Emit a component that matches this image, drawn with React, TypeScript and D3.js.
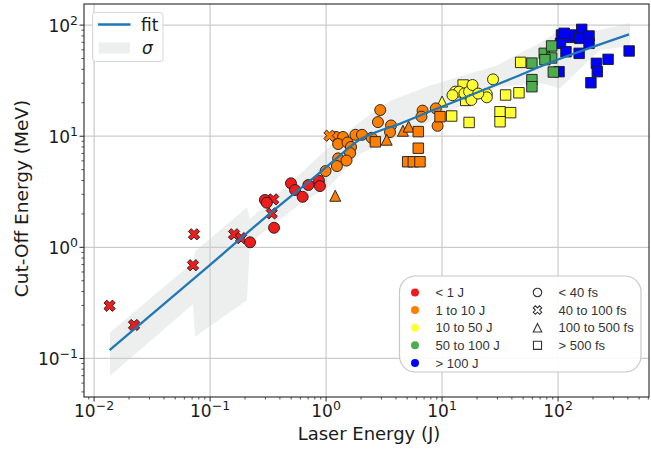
import React from 'react';
import * as d3 from 'd3';

// ---------------- data ----------------
// pulse codes: c = < 40 fs, x = 40 to 100 fs, t = 100 to 500 fs, s = > 500 fs
const redEnergy = [0.0136, 0.0221, 0.0712, 0.0727, 0.161, 0.185, 0.34, 0.35, 0.221, 0.356, 0.297, 0.308, 0.498, 0.54, 0.628, 0.703, 0.869, 0.885];
const redCutoff = [0.298, 0.2, 0.69, 1.31, 1.31, 1.21, 2.02, 2.7, 1.11, 1.5, 2.67, 2.52, 3.77, 3.28, 2.85, 3.64, 3.98, 3.56];
const redPulse = ['x', 'x', 'x', 'x', 'x', 'x', 'x', 'x', 'c', 'c', 'c', 'c', 'c', 'c', 'c', 'c', 'c', 'c'];

const orangeEnergy = [0.99, 1.22, 1.4, 1.27, 1.53, 1.64, 1.61, 1.27, 1.5, 1.24, 1.79, 2.04, 2.47, 2.93, 2.8, 3.63, 3.56, 6.79, 6.64, 8.83, 9.15, 1.07, 1.2, 3.33, 4.6, 5.15, 2.66, 6.23, 6.23, 5.05, 5.65, 6.45, 9.6];
const orangeCutoff = [4.86, 9.84, 9.84, 8.51, 8.78, 8.0, 7.06, 6.32, 6.04, 5.39, 10.3, 10.3, 9.68, 17.2, 13.4, 12.5, 10.9, 17.0, 15.0, 17.8, 12.4, 10.1, 2.91, 9.3, 11.2, 12.2, 8.9, 11.0, 7.8, 5.89, 5.89, 5.89, 15.0];
const orangePulse = ['c', 'c', 'c', 'c', 'c', 'c', 'c', 'c', 'c', 'c', 'c', 'c', 'c', 'c', 'c', 'c', 'c', 'c', 'c', 'c', 'c', 'x', 't', 't', 't', 't', 's', 's', 's', 's', 's', 's', 's'];

const yellowEnergy = [47.6, 35.3, 46.0, 31.6, 39.0, 31.6, 17.1, 12.1, 15.2, 16.0, 13.0, 14.0, 15.6, 17.1, 17.9, 18.3, 24.3, 24.3, 27.5, 12.3, 20.5, 10.0];
const yellowCutoff = [46.2, 23.5, 24.6, 16.6, 16.3, 13.5, 13.3, 15.2, 28.9, 21.0, 25.2, 25.2, 24.3, 25.2, 21.2, 28.9, 24.0, 22.4, 32.5, 23.4, 24.2, 20.5];
const yellowPulse = ['s', 's', 's', 's', 's', 's', 's', 's', 's', 's', 'c', 'c', 'c', 'c', 'c', 'c', 'c', 'c', 'c', 'c', 'c', 't'];

const greenEnergy = [59.5, 59.5, 59.5, 76, 88, 88, 77, 91];
const greenCutoff = [45.5, 32.3, 27.9, 55.7, 64.9, 50.6, 48.9, 37.8];
const greenPulse = ['s', 's', 's', 's', 's', 's', 's', 's'];

const blueEnergy = [107, 105, 117, 128, 140, 160, 154, 185, 185, 152, 102, 214, 218, 192, 270, 410, 113];
const blueCutoff = [81.5, 68.5, 57.6, 77.6, 81.5, 91.6, 76, 79.8, 68.5, 55.7, 38.1, 45.3, 38.1, 30.3, 49.2, 58.5, 84.4];
const bluePulse = ['s', 's', 's', 's', 's', 's', 's', 's', 's', 's', 's', 's', 's', 's', 's', 's', 's'];

const fitEnergy = [0.0136, 0.1, 0.316, 0.832, 1.23, 1.585, 2.0, 2.75, 4.37, 6.92, 11.7, 39.8, 100, 409];
const fitCutoff = [0.119, 0.695, 1.95, 4.47, 6.31, 7.94, 9.44, 10.96, 13.0, 15.85, 19.7, 33.1, 49.0, 82.4];

const bandEnergy = [0.0137, 0.0713, 0.0741, 0.208, 0.221, 0.596, 1.08, 1.96, 3.56, 7.86, 17.4, 29.7, 69.8, 104, 230, 417];
const bandUpper = [0.171, 0.733, 0.915, 2.3, 1.81, 4.58, 8.16, 13.5, 20.7, 28.6, 36.7, 43.4, 69.2, 90.3, 90.3, 104.5];
const bandLower = [0.07, 0.307, 0.157, 0.334, 1.1, 2.46, 3.56, 6.97, 9.06, 13.6, 20.6, 27.5, 30.2, 27.2, 59.7, 64.9];

const xTickExps = [-2, -1, 0, 1, 2];
const yTickExps = [-1, 0, 1, 2];

const energyLegend = ['< 1 J', '1 to 10 J', '10 to 50 J', '50 to 100 J', '> 100 J'];
const pulseLegend = ['< 40 fs', '40 to 100 fs', '100 to 500 fs', '> 500 fs'];
const pulseCodes = ['c', 'x', 't', 's'];

const COLORS = ['#ee1c1c', '#ff7f00', '#ffff33', '#4dac4d', '#0000ff'];

// ---------------- layout ----------------
const W = 651, H = 449;
const L = 84, R = 649, T = 4, B = 397;

const x = d3.scaleLog().domain([Math.pow(10, -2.087), Math.pow(10, 2.784)]).range([L, R]);
const y = d3.scaleLog().domain([Math.pow(10, -1.347), Math.pow(10, 2.19)]).range([B, T]);

function markerPath(code: string, ms: number): string {
  const h = ms / 2;
  if (code === 'c') {
    const r = h;
    return `M${r},0A${r},${r} 0 1,1 ${-r},0A${r},${r} 0 1,1 ${r},0Z`;
  }
  if (code === 's') {
    const s = h * 0.95;
    return `M${-s},${-s}H${s}V${s}H${-s}Z`;
  }
  if (code === 't') {
    return `M0,${-h}L${h},${h}L${-h},${h}Z`;
  }
  const pts = [[-1, -3], [1, -3], [1, -1], [3, -1], [3, 1], [1, 1], [1, 3], [-1, 3], [-1, 1], [-3, 1], [-3, -1], [-1, -1]];
  const k = ms / 6;
  const c = Math.SQRT1_2;
  return 'M' + pts.map(([a, b]) => `${((a - b) * c * k).toFixed(2)},${((a + b) * c * k).toFixed(2)}`).join('L') + 'Z';
}

const groups = [
  { e: blueEnergy, c: blueCutoff, p: bluePulse, color: COLORS[4] },
  { e: greenEnergy, c: greenCutoff, p: greenPulse, color: COLORS[3] },
  { e: yellowEnergy, c: yellowCutoff, p: yellowPulse, color: COLORS[2] },
  { e: orangeEnergy, c: orangeCutoff, p: orangePulse, color: COLORS[1] },
  { e: redEnergy, c: redCutoff, p: redPulse, color: COLORS[0] },
];

const FONT = 'DejaVu Sans, sans-serif';
const LFONT = 'Liberation Sans, Arial, sans-serif';

export default function App() {
  const minorX: number[] = [];
  for (let d = -3; d <= 2; d++) for (let k = 2; k <= 9; k++) {
    const v = k * Math.pow(10, d);
    if (x(v) >= L && x(v) <= R) minorX.push(v);
  }
  const minorY: number[] = [];
  for (let d = -2; d <= 2; d++) for (let k = 2; k <= 9; k++) {
    const v = k * Math.pow(10, d);
    if (y(v) >= T && y(v) <= B) minorY.push(v);
  }

  const area = d3.area<number>()
    .x((_, i) => x(bandEnergy[i]))
    .y0((_, i) => y(bandLower[i]))
    .y1((_, i) => y(bandUpper[i]))(bandEnergy.map((_, i) => i)) || '';

  const fitPath = d3.line<number>()
    .x((i) => x(fitEnergy[i]))
    .y((i) => y(fitCutoff[i]))
    .curve(d3.curveCatmullRom.alpha(0.5))(fitEnergy.map((_, i) => i)) || '';

  const sup = (e: number) => (e < 0 ? '\u2212' + Math.abs(e) : String(e));

  return (
    <svg width={W} height={H} style={{ position: 'absolute', left: 0, top: 0, background: '#fff' }}>
      <rect x={0} y={0} width={W} height={H} fill="#fff" />
      <defs>
        <clipPath id="plotclip"><rect x={L} y={T} width={R - L} height={B - T} /></clipPath>
      </defs>
      <g clipPath="url(#plotclip)">
        <path d={area} fill="#edefef" stroke="none" />
        {xTickExps.map((e) => (
          <line key={'gx' + e} x1={x(Math.pow(10, e))} x2={x(Math.pow(10, e))} y1={T} y2={B} stroke="#cbcbcb" strokeWidth={1.2} />
        ))}
        {yTickExps.map((e) => (
          <line key={'gy' + e} x1={L} x2={R} y1={y(Math.pow(10, e))} y2={y(Math.pow(10, e))} stroke="#cbcbcb" strokeWidth={1.2} />
        ))}
        {groups.map((g, gi) => (
          <g key={'g' + gi}>
            {g.e.map((ev, i) => (
              <path key={i} d={markerPath(g.p[i], g.p[i] === 'x' ? 12 : 11)}
                transform={`translate(${x(ev)},${y(g.c[i])})`}
                fill={g.color} stroke="#1a1a1a" strokeWidth={0.9} />
            ))}
          </g>
        ))}
        <path d={fitPath} fill="none" stroke="#1f77b4" strokeWidth={2.3} />
      </g>
      {/* spines */}
      <rect x={L} y={T} width={R - L} height={B - T} fill="none" stroke="#262626" strokeWidth={1.1} />
      {/* x ticks */}
      {xTickExps.map((e) => {
        const px = x(Math.pow(10, e));
        return (
          <g key={'xt' + e}>
            <line x1={px} x2={px} y1={B} y2={B + 4.5} stroke="#262626" strokeWidth={1} />
            <text x={px} y={417} fontFamily={FONT} fontSize={17} fill="#1a1a1a" textAnchor="middle">
              10<tspan dy={-7} fontSize={12.5}>{sup(e)}</tspan>
            </text>
          </g>
        );
      })}
      {minorX.map((v, i) => (
        <line key={'mx' + i} x1={x(v)} x2={x(v)} y1={B} y2={B + 2.5} stroke="#262626" strokeWidth={0.8} />
      ))}
      {/* y ticks */}
      {yTickExps.map((e) => {
        const py = y(Math.pow(10, e));
        return (
          <g key={'yt' + e}>
            <line x1={L - 4.5} x2={L} y1={py} y2={py} stroke="#262626" strokeWidth={1} />
            <text x={78} y={py + 6.5} fontFamily={FONT} fontSize={17} fill="#1a1a1a" textAnchor="end">
              10<tspan dy={-7} fontSize={12.5}>{sup(e)}</tspan>
            </text>
          </g>
        );
      })}
      {minorY.map((v, i) => (
        <line key={'my' + i} x1={L - 2.5} x2={L} y1={y(v)} y2={y(v)} stroke="#262626" strokeWidth={0.8} />
      ))}
      {/* axis labels */}
      <text x={369} y={440} fontFamily={FONT} fontSize={18} fill="#1a1a1a" textAnchor="middle">Laser Energy (J)</text>
      <text transform={`translate(28,${(T + B) / 2 - 2}) rotate(-90)`} fontFamily={FONT} fontSize={18.5} fill="#1a1a1a" textAnchor="middle">Cut-Off Energy (MeV)</text>

      {/* top-left legend */}
      <rect x={92.5} y={12.5} width={70.5} height={49} rx={3} fill="#fff" fillOpacity={0.85} stroke="#d6d6d6" strokeWidth={1} />
      <line x1={98} x2={130.5} y1={24.5} y2={24.5} stroke="#1f77b4" strokeWidth={2.3} />
      <text x={141} y={30.5} fontFamily={FONT} fontSize={17} fill="#1a1a1a">fit</text>
      <rect x={98.5} y={42.5} width={31.5} height={11} fill="#edefef" />
      <text x={142} y={53.5} fontFamily={FONT} fontSize={17} fontStyle="italic" fill="#1a1a1a">σ</text>

      {/* bottom-right legend */}
      <rect x={399.5} y={276} width={241.5} height={96} rx={16} fill="#fff" fillOpacity={0.9} stroke="#c8c8c8" strokeWidth={1.2} />
      {energyLegend.map((lab, i) => {
        const cy = 292.5 + i * 17.6;
        return (
          <g key={'el' + i}>
            <circle cx={415} cy={cy} r={4} fill={COLORS[i]} />
            <text x={435.5} y={cy} dy="0.36em" fontFamily={LFONT} fontSize={13} fill="#333">{lab}</text>
          </g>
        );
      })}
      {pulseLegend.map((lab, i) => {
        const cy = 292.5 + i * 17.6;
        return (
          <g key={'pl' + i}>
            <path d={markerPath(pulseCodes[i], pulseCodes[i] === 'x' ? 9 : 8.5)} transform={`translate(537.5,${cy})`} fill="none" stroke="#333" strokeWidth={1.1} />
            <text x={558.5} y={cy} dy="0.36em" fontFamily={LFONT} fontSize={13} fill="#333">{lab}</text>
          </g>
        );
      })}
    </svg>
  );
}
